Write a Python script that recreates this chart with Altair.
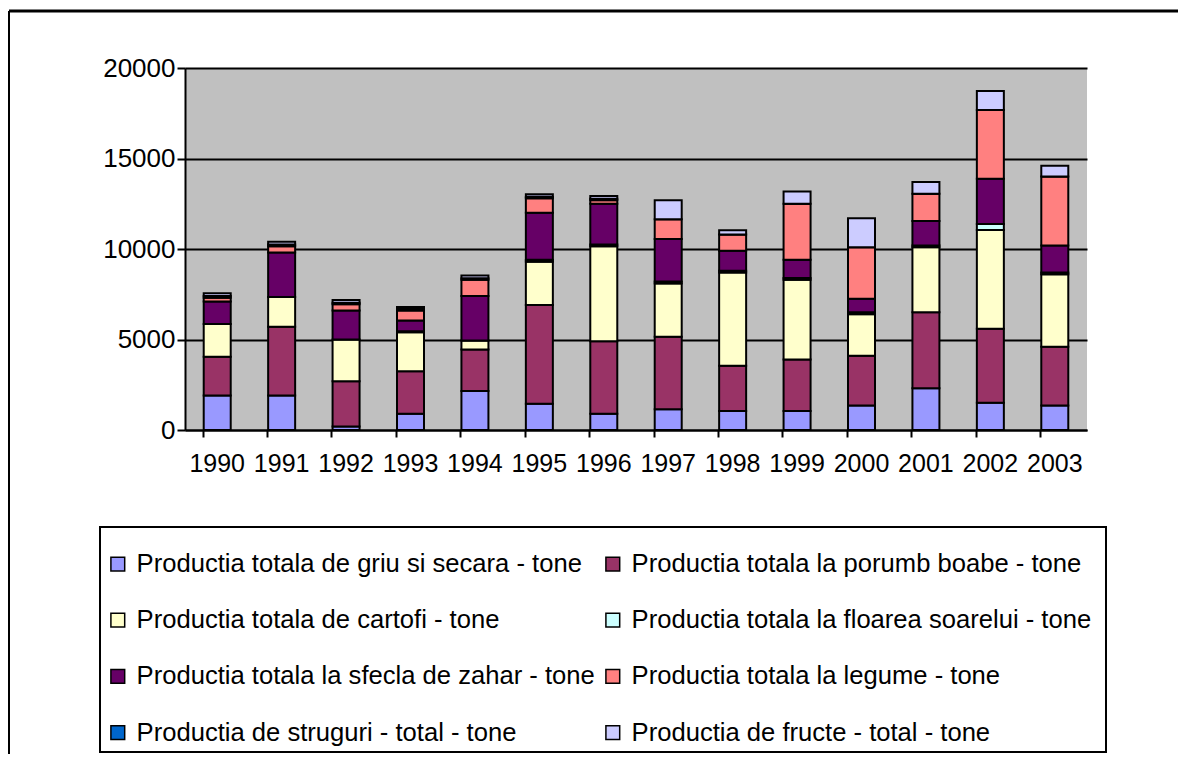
import altair as alt
import pandas as pd

years = ["1990", "1991", "1992", "1993", "1994", "1995", "1996", "1997",
         "1998", "1999", "2000", "2001", "2002", "2003"]

series = [
    "Productia totala de griu si secara - tone",
    "Productia totala la porumb boabe - tone",
    "Productia totala de cartofi - tone",
    "Productia totala la floarea soarelui - tone",
    "Productia totala la sfecla de zahar - tone",
    "Productia totala la legume - tone",
    "Productia de struguri - total - tone",
    "Productia de fructe - total - tone",
]
colors = ["#9999FF", "#993366", "#FFFFCC", "#CCFFFF",
          "#660066", "#FF8080", "#0066CC", "#CCCCFF"]

griu = [1900, 1900, 200, 900, 2150, 1450, 900, 1150, 1050, 1050, 1350, 2300, 1500, 1350]
porumb = [2150, 3800, 2500, 2350, 2300, 5450, 4000, 4000, 2500, 2850, 2750, 4200, 4100, 3250]
cartofi = [1800, 1650, 2300, 2150, 500, 2400, 5250, 2950, 5150, 4400, 2300, 3600, 5450, 4000]
floarea = [0, 0, 0, 50, 0, 100, 100, 100, 100, 100, 100, 100, 330, 100]
sfecla = [1250, 2450, 1600, 600, 2450, 2600, 2250, 2350, 1100, 1000, 750, 1350, 2500, 1500]
legume = [200, 350, 350, 550, 900, 800, 200, 1100, 900, 3100, 2850, 1500, 3800, 3800]
struguri = [100, 100, 80, 80, 80, 80, 80, 0, 0, 0, 0, 0, 0, 0]
fructe = [150, 150, 150, 120, 150, 150, 150, 1050, 230, 680, 1600, 650, 1050, 600]

values = [griu, porumb, cartofi, floarea, sfecla, legume, struguri, fructe]

rows = []
for si, (name, vals) in enumerate(zip(series, values)):
    for y, v in zip(years, vals):
        rows.append({"An": y, "Serie": name, "Valoare": v, "idx": si})
df = pd.DataFrame(rows)

FONT = "Liberation Sans"

bars = alt.Chart(df).mark_bar(size=27, stroke="black", strokeWidth=2).encode(
    x=alt.X("An:N", sort=years, title=None,
            scale=alt.Scale(paddingInner=0.56, paddingOuter=0.28),
            axis=alt.Axis(labelAngle=0, labelFont=FONT, labelFontSize=25,
                          labelColor="black", domainColor="black", domainWidth=2,
                          tickColor="black", tickWidth=2, tickSize=7,
                          bandPosition=0, labelPadding=14, grid=False)),
    y=alt.Y("Valoare:Q", title=None, stack="zero",
            scale=alt.Scale(domain=[0, 20000], nice=False),
            axis=alt.Axis(values=[0, 5000, 10000, 15000, 20000], format="d",
                          labelFont=FONT, labelFontSize=26, labelColor="black",
                          domainColor="black", domainWidth=2,
                          tickColor="black", tickWidth=2, tickSize=8,
                          labelPadding=2, grid=True, gridColor="black",
                          gridWidth=2)),
    color=alt.Color("Serie:N", sort=series,
                    scale=alt.Scale(domain=series, range=colors),
                    legend=alt.Legend(title=None, orient="none", columns=2,
                                      direction="horizontal",
                                      legendX=-80, legendY=483,
                                      symbolType="square", symbolSize=190,
                                      symbolStrokeColor="black",
                                      symbolStrokeWidth=1.5,
                                      labelFont=FONT, labelFontSize=25.6,
                                      labelColor="black", labelLimit=600,
                                      labelOffset=6, rowPadding=29.3,
                                      columnPadding=5, padding=0)),
    order=alt.Order("idx:Q"),
)

legend_box = alt.Chart().mark_rect(fill="white", stroke="black", strokeWidth=2).encode(
    x=alt.value(-85), x2=alt.value(921), y=alt.value(459), y2=alt.value(684)
)
frame_top = alt.Chart().mark_rule(color="black", strokeWidth=3).encode(
    x=alt.value(-176), x2=alt.value(1000), y=alt.value(-57)
)
frame_left = alt.Chart().mark_rule(color="black", strokeWidth=2).encode(
    x=alt.value(-176), y=alt.value(-57), y2=alt.value(690)
)

chart = alt.layer(legend_box, frame_top, frame_left, bars).properties(
    width=902, height=362,
    autosize=alt.AutoSizeParams(type="none"),
    padding={"left": 177, "top": 60, "right": 91, "bottom": 324},
    background="white",
).configure_view(fill="#C0C0C0", strokeWidth=0)

chart.save("out.html", embed_options={"renderer": "svg", "actions": False})
